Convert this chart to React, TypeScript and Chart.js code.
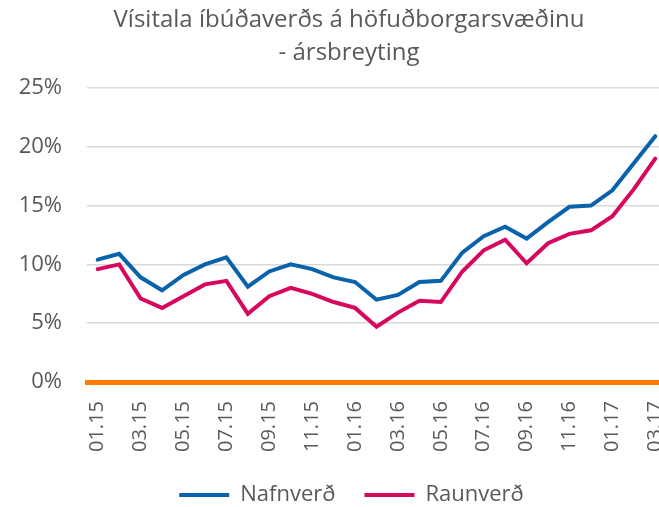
import React, { useEffect, useRef } from "react";
import { Chart, registerables } from "chart.js";

Chart.register(...registerables);

const titleLine1 = "Vísitala íbúðaverðs á höfuðborgarsvæðinu";
const titleLine2 = "- ársbreyting";

const months = [
  "01.15", "02.15", "03.15", "04.15", "05.15", "06.15", "07.15", "08.15", "09.15", "10.15", "11.15", "12.15",
  "01.16", "02.16", "03.16", "04.16", "05.16", "06.16", "07.16", "08.16", "09.16", "10.16", "11.16", "12.16",
  "01.17", "02.17", "03.17",
];

const nafnverd = [
  10.4, 10.9, 8.9, 7.8, 9.1, 10.0, 10.6, 8.1, 9.4, 10.0, 9.6, 8.9,
  8.5, 7.0, 7.4, 8.5, 8.6, 11.0, 12.4, 13.2, 12.2, 13.6, 14.9, 15.0,
  16.3, 18.6, 20.9,
];

const raunverd = [
  9.6, 10.0, 7.1, 6.3, 7.3, 8.3, 8.6, 5.8, 7.3, 8.0, 7.5, 6.8,
  6.3, 4.7, 5.9, 6.9, 6.8, 9.4, 11.2, 12.1, 10.1, 11.8, 12.6, 12.9,
  14.1, 16.4, 19.0,
];

const yTicks = [0, 5, 10, 15, 20, 25];

const FONT = "'Open Sans', sans-serif";
const GRAY = "#595959";

const titlePlugin = {
  id: "customTitle",
  afterDraw(chart: any) {
    const ctx = chart.ctx;
    ctx.save();
    ctx.fillStyle = GRAY;
    ctx.textAlign = "center";
    ctx.textBaseline = "middle";
    ctx.font = `24px ${FONT}`;
    ctx.fillText(titleLine1, 349, 20);
    ctx.fillText(titleLine2, 349, 53);
    ctx.restore();
  },
};

export default function App() {
  const ref = useRef<HTMLCanvasElement>(null);

  useEffect(() => {
    if (!ref.current) return;
    const chart = new Chart(ref.current, {
      type: "line",
      data: {
        labels: months,
        datasets: [
          {
            label: "Nafnverð",
            data: nafnverd,
            borderColor: "#0862AC",
            backgroundColor: "#0862AC",
            borderWidth: 4,
            pointRadius: 0,
            borderCapStyle: "round",
            tension: 0,
            yAxisID: "y",
          },
          {
            label: "Raunverð",
            data: raunverd,
            borderColor: "#D6075D",
            backgroundColor: "#D6075D",
            borderWidth: 4,
            pointRadius: 0,
            borderCapStyle: "round",
            tension: 0,
            yAxisID: "y",
          },
        ],
      },
      options: {
        responsive: false,
        animation: false,
        layout: { padding: { top: 88, right: 0, left: 10, bottom: -9 } },
        plugins: {
          title: { display: false },
          tooltip: { enabled: false },
          legend: {
            position: "bottom",
            labels: {
              usePointStyle: true,
              pointStyle: "line",
              pointStyleWidth: 50,
              color: GRAY,
              font: { family: FONT, size: 22 },
              padding: 29,
            },
          },
        },
        scales: {
          x: {
            offset: true,
            grid: { display: false, drawTicks: false },
            border: { display: true, color: "#FF7C00", width: 5 },
            afterFit: (axis: any) => {
              axis.height = 73;
              axis.paddingLeft = 0;
              axis.paddingRight = 0;
            },
            ticks: {
              autoSkip: false,
              maxRotation: 90,
              minRotation: 90,
              padding: 19,
              color: GRAY,
              font: { family: FONT, size: 20 },
              callback: (_v: any, i: number) => (i % 2 === 0 ? months[i] : ""),
            },
          },
          y: {
            position: "left",
            min: 0,
            max: 25,
            afterBuildTicks: (axis: any) => {
              axis.ticks = yTicks.map((v) => ({ value: v }));
            },
            afterFit: (axis: any) => {
              axis.width = 77;
              axis.paddingTop = 0;
              axis.paddingBottom = 0;
            },
            grid: { color: "#D9D9D9", lineWidth: 1.5, drawTicks: false },
            border: { display: false },
            ticks: {
              padding: 25,
              color: GRAY,
              font: { family: FONT, size: 22 },
              callback: (v: any) => `${v}%`,
            },
          },
          yRight: {
            position: "right",
            display: true,
            grid: { display: false, drawTicks: false },
            border: { display: false },
            ticks: { display: false },
            afterFit: (axis: any) => {
              axis.width = 27;
            },
          },
        },
      },
      plugins: [titlePlugin],
    });
    return () => chart.destroy();
  }, []);

  return (
    <div style={{ position: "absolute", left: 0, top: 0, width: 659, height: 507, overflow: "hidden" }}>
      <canvas ref={ref} width={693} height={507} style={{ width: 693, height: 507, display: "block" }} />
    </div>
  );
}
